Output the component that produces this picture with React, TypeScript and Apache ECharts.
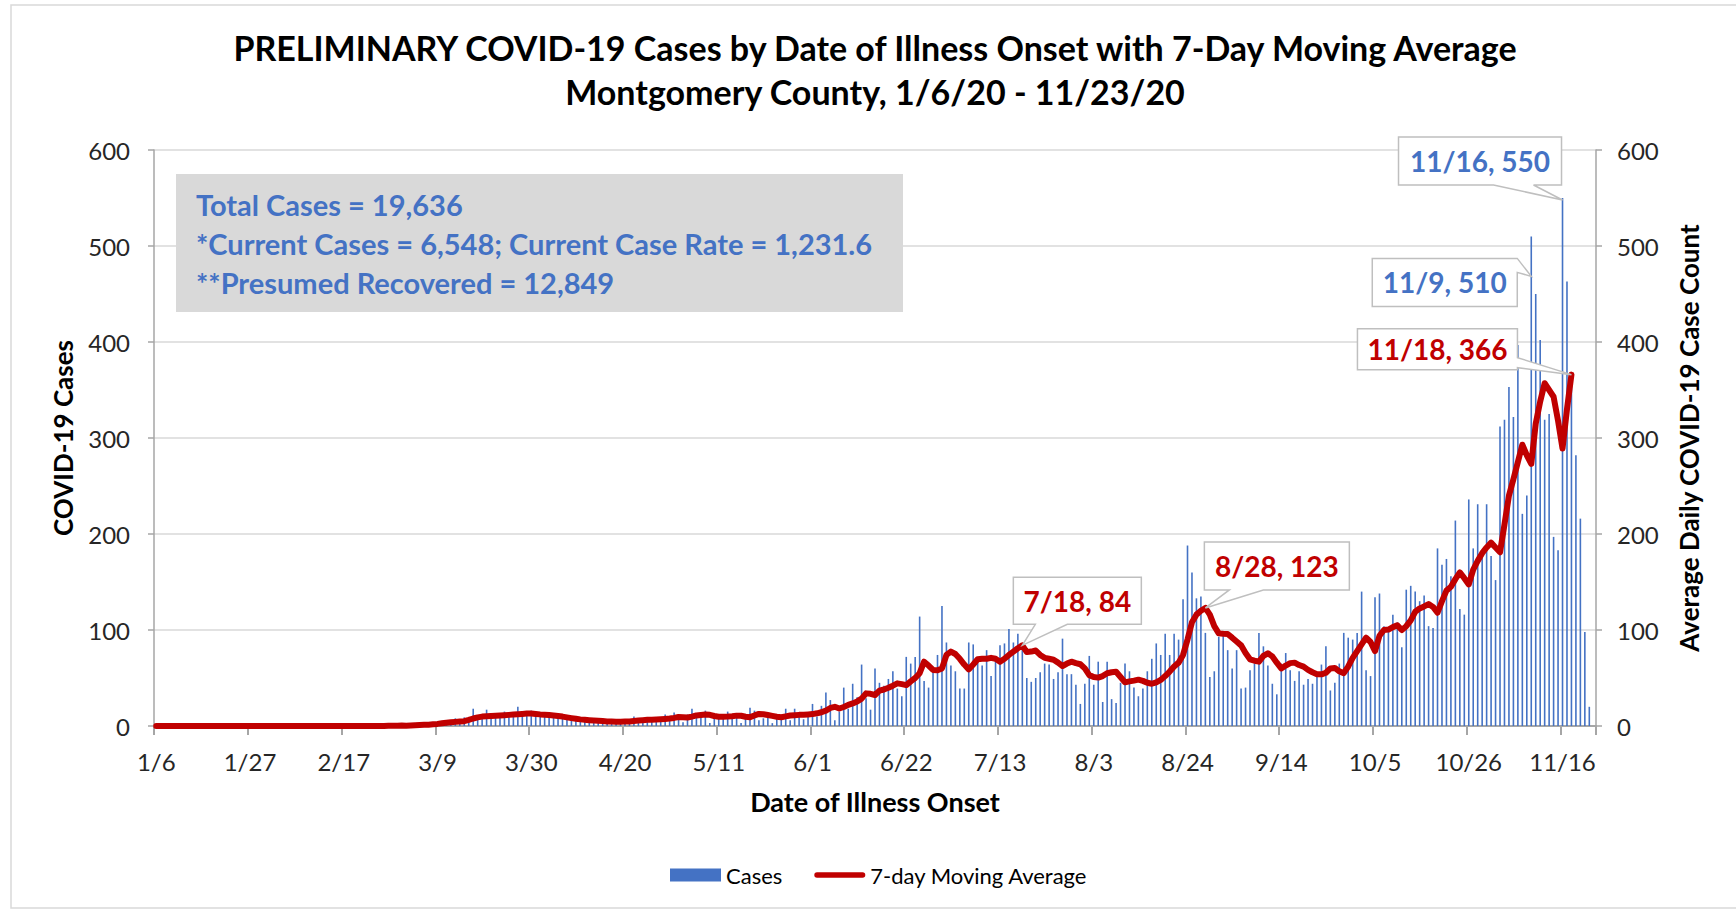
import React, { useEffect, useRef } from "react";
import * as echarts from "echarts";

// ---------- DATA ----------
const START_DATE = Date.UTC(2020, 0, 6); // 1/6/20
const DAY_COUNT = 323; // 1/6/20 .. 11/23/20
const DATES: string[] = Array.from({ length: DAY_COUNT }, (_, i) => {
  const d = new Date(START_DATE + i * 86400000);
  return `${d.getUTCMonth() + 1}/${d.getUTCDate()}`;
});

// Daily cases by date of illness onset
const CASES: number[] = [
  0, 0, 0, 0, 0, 1, 0, 0, 0, 0,
  0, 0, 0, 0, 0, 0, 0, 0, 0, 0,
  0, 0, 0, 0, 0, 0, 0, 0, 0, 1,
  0, 0, 0, 0, 0, 0, 0, 0, 0, 0,
  0, 0, 0, 0, 0, 0, 0, 1, 0, 0,
  0, 0, 1, 0, 0, 1, 0, 1, 2, 1,
  2, 3, 2, 4, 3, 5, 4, 8, 5, 9,
  6, 18, 7, 9, 17, 8, 10, 9, 15, 11,
  10, 20, 12, 13, 16, 12, 11, 13, 12, 10,
  11, 9, 8, 9, 7, 6, 7, 5, 6, 5,
  6, 4, 5, 4, 5, 4, 5, 10, 6, 5,
  7, 6, 7, 6, 12, 8, 14, 7, 4, 12,
  18, 10, 11, 16, 3, 8, 10, 9, 15, 9,
  10, 3, 10, 19, 16, 6, 8, 10, 3, 8,
  10, 18, 6, 18, 10, 7, 10, 23, 10, 21,
  35, 27, 6, 15, 40, 18, 44, 30, 64, 29,
  17, 60, 45, 42, 49, 57, 39, 31, 72, 65,
  72, 114, 47, 40, 60, 74, 125, 87, 63, 57,
  39, 39, 87, 85, 72, 63, 79, 52, 72, 84,
  86, 101, 87, 96, 86, 50, 46, 50, 56, 65,
  64, 49, 56, 91, 54, 54, 43, 23, 44, 73,
  43, 67, 25, 67, 28, 24, 45, 65, 57, 40,
  31, 39, 57, 70, 86, 74, 96, 74, 96, 90,
  132, 188, 160, 133, 135, 97, 51, 57, 93, 97,
  79, 60, 79, 39, 40, 58, 65, 97, 83, 63,
  44, 33, 65, 76, 58, 47, 57, 43, 49, 44,
  53, 64, 83, 37, 45, 65, 97, 92, 90, 97,
  140, 58, 52, 134, 138, 104, 98, 116, 108, 82,
  142, 146, 140, 130, 136, 104, 102, 185, 168, 174,
  156, 214, 122, 116, 236, 185, 231, 183, 231, 177,
  152, 312, 319, 353, 322, 397, 221, 240, 510, 450,
  402, 319, 325, 197, 183, 550, 463, 360, 282, 216,
  98, 20, 0,
];

// 7-day moving average (ends 11/18)
const MOVING_AVG: number[] = [
  0, 0, 0, 0, 0, 0.1, 0.1, 0.1, 0.1, 0.1,
  0.1, 0.1, 0, 0, 0, 0, 0, 0, 0, 0,
  0, 0, 0, 0, 0, 0, 0, 0, 0, 0.1,
  0.1, 0.1, 0.1, 0.1, 0.1, 0.1, 0, 0, 0, 0,
  0, 0, 0, 0, 0, 0, 0, 0.1, 0.1, 0.1,
  0.1, 0.1, 0.3, 0.3, 0.3, 0.4, 0.3, 0.6, 0.8, 1.0,
  1.2, 1.4, 1.8, 2.2, 2.8, 3.4, 3.9, 4.3, 4.6, 5.0,
  6.3, 7.8, 9.0, 9.8, 10.2, 10.4, 10.6, 10.9, 11.2, 11.6,
  12.0, 12.3, 12.6, 12.9, 13.1, 12.6, 12.1, 11.8, 11.5, 11.0,
  10.4, 9.8, 9.0, 8.2, 7.5, 6.9, 6.5, 6.1, 5.8, 5.4,
  5.1, 4.8, 4.6, 4.5, 4.5, 4.6, 4.8, 5.2, 5.7, 6.1,
  6.4, 6.6, 6.8, 7.1, 7.4, 7.8, 8.4, 9.4, 9.2, 8.8,
  9.8, 11.0, 11.5, 11.9, 11.6, 10.4, 9.7, 9.6, 9.8, 10.2,
  10.8, 10.7, 9.6, 9.2, 11.0, 12.6, 12.2, 11.4, 10.5, 9.6,
  9.1, 10.0, 10.9, 11.2, 11.6, 11.8, 12.1, 12.4, 13.2, 14.3,
  16.0, 18.8, 20.0, 18.2, 19.8, 22.0, 23.5, 25.5, 28.5, 34.0,
  33.5, 32.3, 36.8, 38.0, 39.8, 42.0, 44.4, 43.6, 42.6, 46.5,
  50.0, 55.0, 67.0, 63.0, 58.4, 58.0, 60.0, 74.0, 77.5, 75.0,
  70.0, 64.0, 59.0, 64.0, 69.5, 70.0, 70.0, 71.0, 70.0, 67.0,
  70.0, 74.0, 77.5, 81.0, 84.0, 77.0, 77.5, 78.6, 74.0, 71.0,
  70.0, 69.0, 66.0, 62.5, 65.0, 67.0, 65.5, 64.3, 60.0, 53.0,
  51.0, 50.4, 52.0, 55.0, 56.0, 56.5, 51.0, 45.5, 46.5, 47.3,
  48.3, 47.0, 45.0, 44.0, 45.5, 48.0, 52.0, 56.7, 62.0, 66.0,
  74.0, 90.0, 108.0, 116.0, 120.0, 123.0, 116.0, 104.0, 96.5, 96.0,
  95.8, 92.0, 88.0, 84.0, 76.0, 69.5, 68.0, 67.0, 73.0, 75.7,
  72.5, 66.0, 60.0, 63.0, 65.5, 66.0, 63.5, 61.8, 58.5, 56.0,
  54.0, 53.8, 55.5, 60.0, 60.5, 57.0, 55.0, 62.0, 71.0, 78.0,
  85.0, 92.0, 87.5, 78.0, 94.0, 100.0, 100.5, 103.0, 105.0, 100.0,
  104.0, 110.0, 119.0, 122.5, 124.5, 127.0, 124.0, 118.0, 130.0, 141.0,
  145.0, 153.0, 160.0, 154.0, 147.5, 163.0, 172.0, 180.0, 186.0, 191.0,
  186.0, 181.0, 210.0, 240.0, 257.0, 275.0, 293.0, 282.0, 273.0, 315.0,
  338.0, 357.0, 350.0, 343.0, 318.0, 289.0, 330.0, 366.0,
];

const Y_MIN = 0;
const Y_MAX = 600;
const Y_INTERVAL = 100;

const INFO_LINES: string[] = [
  "Total Cases = 19,636",
  "*Current Cases = 6,548; Current Case Rate = 1,231.6",
  "**Presumed Recovered = 12,849",
];

const TITLE_LINES: string[] = [
  "PRELIMINARY COVID-19 Cases by Date of Illness Onset with 7-Day Moving Average",
  "Montgomery County, 1/6/20 - 11/23/20",
];

const SERIES_CASES = "Cases";
const SERIES_MA = "7-day Moving Average";

// Annotated points: date + which series
const CALLOUT_DATES: string[] = ["11/16", "11/9", "11/18", "8/28", "7/18"];
const CALLOUT_SERIES: string[] = ["cases", "cases", "ma", "ma", "ma"];

// ---------- STYLE ----------
const BLUE = "#4472C4";
const RED = "#C00000";
const GRID_COLOR = "#D9D9D9";
const AXIS_COLOR = "#A6A6A6";
const LABEL_COLOR = "#262626";
const FONT = "Lato, 'Open Sans', 'DejaVu Sans', sans-serif";

// callout shapes relative to the anchor point (layout only)
type Shape = { L: number; R: number; T: number; B: number; pts: (b: any) => number[][] };
const CALLOUT_SHAPES: Shape[] = [
  {
    L: -164, R: -1, T: -61, B: -13,
    pts: ({ L, R, T, B }) => [[L, T], [R, T], [R, B], [-29, B], [0, 2], [-69, B], [L, B]],
  },
  {
    L: -159, R: -14, T: 22, B: 70,
    pts: ({ L, R, T, B }) => [[L, T], [R, T], [0, 40], [R, T + 14], [R, B], [L, B]],
  },
  {
    L: -214, R: -54, T: -46, B: -5,
    pts: ({ L, R, T, B }) => [[L, T], [R, T], [R, -17], [0, 0], [R, -7], [R, B], [L, B]],
  },
  {
    L: -1, R: 144, T: -66, B: -18,
    pts: ({ L, R, T, B }) => [[L, T], [R, T], [R, B], [58, B], [0, 0], [24, B], [L, B]],
  },
  {
    L: -9, R: 119, T: -68, B: -21,
    pts: ({ L, R, T, B }) => [[L, T], [R, T], [R, B], [45, B], [0, 0], [13, B], [L, B]],
  },
];

function staticGraphics(): any[] {
  return [
    {
      id: "frame",
      type: "rect",
      shape: { x: 11, y: 5, width: 1800, height: 903 },
      style: { fill: "none", stroke: "#D9D9D9", lineWidth: 1.5 },
      silent: true,
      z: -1,
    },
    {
      id: "infobox-bg",
      type: "rect",
      z: 50,
      shape: { x: 176, y: 174, width: 727, height: 138 },
      style: { fill: "#D9D9D9" },
    },
    ...INFO_LINES.map((t, i) => ({
      id: "infobox-text" + i,
      type: "text",
      z: 51,
      style: {
        text: t,
        x: 196,
        y: 204 + i * 39,
        verticalAlign: "middle",
        align: "left",
        fill: BLUE,
        fontSize: 29,
        fontWeight: "bold",
        fontFamily: FONT,
      },
    })),
  ];
}

function buildCallouts(chart: any): any[] {
  const out: any[] = [];
  CALLOUT_DATES.forEach((date, k) => {
    const idx = DATES.indexOf(date);
    const isCases = CALLOUT_SERIES[k] === "cases";
    const val = isCases ? CASES[idx] : MOVING_AVG[idx];
    const [px, py] = chart.convertToPixel({ seriesIndex: isCases ? 0 : 1 }, [idx, val]);
    const s = CALLOUT_SHAPES[k];
    const color = isCases ? BLUE : RED;
    out.push({
      id: "callout-box" + k,
      type: "polygon",
      z: 100,
      x: px,
      y: py,
      shape: { points: s.pts(s) },
      style: { fill: "#FFFFFF", stroke: "#BFBFBF", lineWidth: 1.5 },
    });
    out.push({
      id: "callout-text" + k,
      type: "text",
      z: 101,
      x: px,
      y: py,
      style: {
        text: `${date}, ${Math.round(val)}`,
        x: (s.L + s.R) / 2,
        y: (s.T + s.B) / 2,
        align: "center",
        verticalAlign: "middle",
        fill: color,
        fontSize: 28,
        fontWeight: "bold",
        fontFamily: FONT,
      },
    });
  });
  return out;
}

export default function App() {
  const ref = useRef<HTMLDivElement>(null);

  useEffect(() => {
    const el = ref.current;
    if (!el) return;
    const chart = echarts.init(el, null, { renderer: "svg" });

    const yAxisCommon = {
      type: "value",
      min: Y_MIN,
      max: Y_MAX,
      interval: Y_INTERVAL,
      axisLine: { show: true, lineStyle: { color: AXIS_COLOR, width: 1.5 } },
      axisTick: { show: true, length: 6, lineStyle: { color: AXIS_COLOR, width: 1.5 } },
      nameLocation: "middle",
      nameRotate: 90,
      nameTextStyle: { fontSize: 26, fontWeight: "bold", color: "#000", fontFamily: FONT },
    };

    const option: any = {
      animation: false,
      backgroundColor: "#FFFFFF",
      textStyle: { fontFamily: FONT },
      title: {
        text: TITLE_LINES.join("\n"),
        left: 875,
        textAlign: "center",
        top: 25,
        padding: 0,
        textStyle: {
          fontSize: 34,
          fontWeight: "bold",
          color: "#000",
          lineHeight: 44,
          fontFamily: FONT,
        },
      },
      grid: { left: 154, right: 140, top: 150, bottom: 184, containLabel: false },
      legend: {
        left: 665,
        top: 859,
        itemWidth: 51,
        itemHeight: 13,
        itemGap: 32,
        textStyle: { fontSize: 22, color: "#000", fontFamily: FONT },
        data: [
          { name: SERIES_CASES, icon: "rect" },
          { name: SERIES_MA, icon: "path://M3,0 L53,0 A3,3 0 0 1 53,6 L3,6 A3,3 0 0 1 3,0 Z" },
        ],
      },
      xAxis: {
        type: "category",
        data: DATES,
        boundaryGap: true,
        name: "Date of Illness Onset",
        nameLocation: "middle",
        nameGap: 62,
        nameTextStyle: { fontSize: 27, fontWeight: "bold", color: "#000", fontFamily: FONT },
        axisLine: { show: true, lineStyle: { color: AXIS_COLOR, width: 2 } },
        axisTick: { show: true, interval: 20, length: 9, lineStyle: { color: AXIS_COLOR, width: 2 } },
        axisLabel: { interval: 20, fontSize: 24, color: LABEL_COLOR, margin: 23, fontFamily: FONT },
        splitLine: { show: false },
      },
      yAxis: [
        {
          ...yAxisCommon,
          position: "left",
          name: "COVID-19 Cases",
          nameGap: 78,
          axisLabel: { fontSize: 24, color: LABEL_COLOR, margin: 24, fontFamily: FONT },
          splitLine: { show: true, lineStyle: { color: GRID_COLOR, width: 1.5 } },
        },
        {
          ...yAxisCommon,
          position: "right",
          name: "Average Daily COVID-19 Case Count",
          nameGap: 80,
          axisLabel: { fontSize: 24, color: LABEL_COLOR, margin: 21, fontFamily: FONT },
          splitLine: { show: false },
        },
      ],
      series: [
        {
          name: SERIES_CASES,
          type: "bar",
          data: CASES,
          barWidth: 1.6,
          itemStyle: { color: BLUE },
          xAxisIndex: 0,
          yAxisIndex: 0,
          z: 2,
        },
        {
          name: SERIES_MA,
          type: "line",
          data: MOVING_AVG,
          xAxisIndex: 0,
          yAxisIndex: 1,
          showSymbol: false,
          symbol: "none",
          smooth: false,
          itemStyle: { color: RED },
          lineStyle: { color: RED, width: 6, cap: "round", join: "round" },
          z: 3,
        },
      ],
      graphic: staticGraphics(),
    };

    chart.setOption(option);
    chart.setOption({ graphic: [...staticGraphics(), ...buildCallouts(chart)] });

    return () => {
      chart.dispose();
    };
  }, []);

  return (
    <div
      ref={ref}
      style={{ position: "fixed", left: 0, top: 0, width: 1736, height: 910, background: "#fff" }}
    />
  );
}
